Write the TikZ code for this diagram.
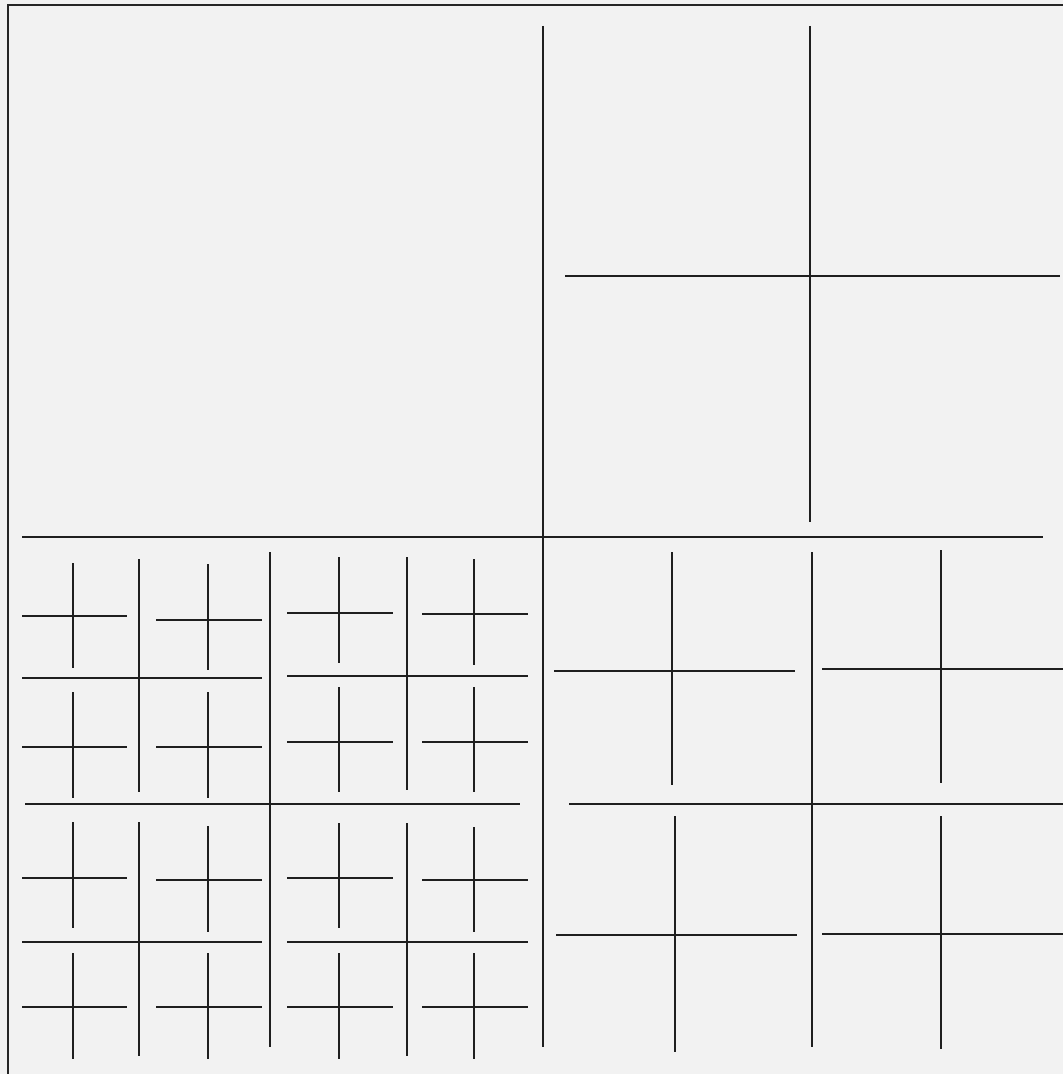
\documentclass[tikz,border=0pt]{standalone}
\begin{document}
\begin{tikzpicture}[x=0.75pt,y=-0.75pt,
  ln/.style={draw=black!88,line width=1.5pt},
  frame/.style={draw=black!85,line width=2pt}]
% background / bounding box
\fill[black!5] (0,0) rectangle (1063,1074);
\useasboundingbox (0,0) rectangle (1063,1074);
% cross macro: center y, h-line x1 x2, center x, v-line y1 y2
\newcommand\qcross[6]{%
  \draw[ln] (#2,#1) -- (#3,#1);
  \draw[ln] (#4,#5) -- (#4,#6);}
% frame (top and left edges)
\draw[frame] (8,1074) -- (8,5) -- (1063,5);
% level 1
\qcross{537}{22}{1043}{543}{26}{1047}
% top-right quadrant
\qcross{276}{565}{1060}{810}{26}{522}
% bottom-right quadrant
\qcross{804}{569}{1063}{812}{552}{1047}
\qcross{671}{554}{795}{672}{552}{785}
\qcross{669}{822}{1063}{941}{550}{783}
\qcross{935}{556}{797}{675}{816}{1052}
\qcross{934}{822}{1063}{941}{816}{1049}
% bottom-left quadrant
\qcross{804}{25}{520}{270}{552}{1047}
% its top-left block
\qcross{678}{22}{262}{139}{559}{792}
\qcross{616}{22}{127}{73}{563}{668}
\qcross{620}{156}{262}{208}{564}{670}
\qcross{747}{22}{127}{73}{692}{798}
\qcross{747}{156}{262}{208}{692}{798}
% its top-right block
\qcross{676}{287}{528}{407}{557}{790}
\qcross{613}{287}{393}{339}{557}{663}
\qcross{614}{422}{528}{474}{559}{665}
\qcross{742}{287}{393}{339}{687}{792}
\qcross{742}{422}{528}{474}{687}{792}
% its bottom-left block
\qcross{942}{22}{262}{139}{822}{1056}
\qcross{878}{22}{127}{73}{822}{928}
\qcross{880}{156}{262}{208}{826}{932}
\qcross{1007}{22}{127}{73}{953}{1059}
\qcross{1007}{156}{262}{208}{953}{1059}
% its bottom-right block
\qcross{942}{287}{528}{407}{823}{1056}
\qcross{878}{287}{393}{339}{823}{928}
\qcross{880}{422}{528}{474}{827}{932}
\qcross{1007}{287}{393}{339}{953}{1059}
\qcross{1007}{422}{528}{474}{953}{1059}
\end{tikzpicture}
\end{document}
